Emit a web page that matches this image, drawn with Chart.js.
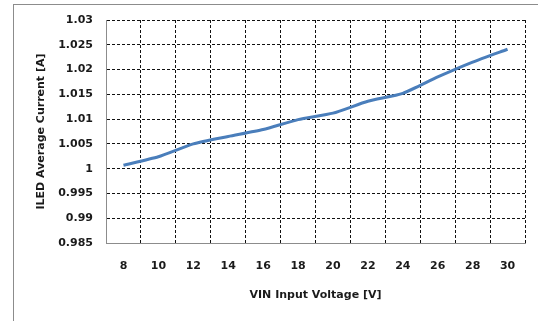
<!DOCTYPE html>
<html>
<head>
<meta charset="utf-8">
<script src="https://cdn.jsdelivr.net/npm/chart.js@4/dist/chart.umd.min.js"></script>
<style>
  html, body { margin: 0; padding: 0; background: #fff; }
  #wrap { position: relative; width: 538px; height: 321px; overflow: hidden; }
  #frame { position: absolute; left: 13px; top: 4px; width: 600px; height: 400px;
           border-top: 1px solid #8c8c8c; border-left: 1px solid #8c8c8c; }
  #chart { position: absolute; left: 0; top: 0; }
</style>
</head>
<body>
<div id="wrap">
  <div id="frame"></div>
  <canvas id="chart" width="538" height="321"></canvas>
</div>
<script>
// ===== DATA =====
const voltages = ['8', '10', '12', '14', '16', '18', '20', '22', '24', '26', '28', '30'];
const iledAvg = [1.0007, 1.0024, 1.005, 1.0065, 1.0079, 1.0099, 1.0112, 1.0136, 1.0152, 1.0185, 1.0215, 1.0241];
const yMin = 0.985, yMax = 1.03, yStep = 0.005;

const labelFont = { family: 'DejaVu Sans', size: 11, weight: 'bold' };
const textColor = '#1a1a1a';

new Chart(document.getElementById('chart'), {
  type: 'line',
  data: {
    labels: voltages,
    datasets: [{
      data: iledAvg,
      borderColor: '#4a7ebb',
      borderWidth: 3,
      pointRadius: 0,
      fill: false,
      tension: 0.2
    }]
  },
  options: {
    responsive: false,
    animation: false,
    layout: { padding: { top: 20, right: 13, left: 0, bottom: 0 } },
    plugins: { legend: { display: false }, tooltip: { enabled: false } },
    scales: {
      x: {
        offset: true,
        grid: { offset: true, color: '#111', lineWidth: 1, drawTicks: false },
        border: { display: true, color: '#8c8c8c', width: 1, dash: [3, 2] },
        ticks: { color: textColor, font: labelFont, padding: 17, maxRotation: 0, autoSkip: false },
        title: { display: true, text: 'VIN Input Voltage [V]', color: textColor, font: labelFont, padding: { top: 4, bottom: 19 } },
        afterFit: s => { s.height = 78; }
      },
      y: {
        min: yMin,
        max: yMax,
        grid: { color: '#111', lineWidth: 1, drawTicks: false },
        border: { display: true, color: '#8c8c8c', width: 1, dash: [3, 2] },
        ticks: {
          stepSize: yStep,
          color: textColor,
          font: labelFont,
          padding: 13,
          callback: v => String(+v.toFixed(3))
        },
        title: { display: true, text: 'ILED Average Current [A]', color: textColor, font: labelFont, padding: { top: 35, bottom: 0 } },
        afterFit: s => { s.width = 106; }
      }
    }
  }
});
</script>
</body>
</html>
